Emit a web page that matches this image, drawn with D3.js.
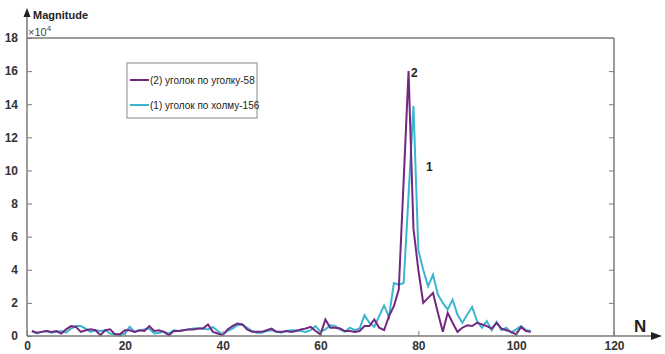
<!DOCTYPE html>
<html><head><meta charset="utf-8">
<script src="https://cdn.jsdelivr.net/npm/d3@7"></script>
<style>body{margin:0;background:#fff}svg{display:block;font-family:"Liberation Sans",Arial,sans-serif}</style>
</head><body><svg id="c" width="665" height="354"></svg>
<script>
const nValues = d3.range(1, 104);
const series2 = [0.3,0.2,0.25,0.3,0.25,0.3,0.15,0.4,0.6,0.55,0.25,0.35,0.4,0.35,0.05,0.35,0.4,0.1,0.1,0.35,
0.35,0.25,0.35,0.3,0.6,0.3,0.35,0.25,0.05,0.3,0.3,0.35,0.4,0.4,0.45,0.45,0.7,0.25,0.15,0.05,
0.4,0.6,0.75,0.7,0.4,0.25,0.25,0.25,0.35,0.45,0.25,0.25,0.3,0.25,0.3,0.4,0.45,0.55,0.3,0.1,
1.0,0.5,0.5,0.45,0.3,0.3,0.25,0.3,0.6,0.6,1.0,0.5,0.35,1.2,1.8,2.8,9.4,16.0,6.5,4.0,
2.0,2.3,2.6,1.4,0.25,1.4,0.8,0.25,0.5,0.65,0.6,0.8,0.7,0.6,0.45,0.8,0.45,0.35,0.25,0.1,
0.55,0.3,0.25];
const series1 = [0.3,0.15,0.25,0.3,0.2,0.25,0.3,0.2,0.45,0.6,0.6,0.45,0.25,0.35,0.3,0.35,0.15,0.1,0.05,0.15,
0.55,0.25,0.35,0.4,0.45,0.15,0.2,0.25,0.15,0.35,0.3,0.35,0.4,0.45,0.45,0.45,0.4,0.55,0.3,0.1,
0.3,0.45,0.65,0.7,0.5,0.3,0.2,0.2,0.3,0.35,0.25,0.2,0.3,0.35,0.35,0.3,0.25,0.35,0.6,0.25,
0.4,0.65,0.6,0.4,0.25,0.5,0.35,0.45,1.25,0.8,0.55,1.2,1.85,1.15,3.2,3.1,3.2,8.5,13.9,5.2,
4.0,3.0,3.7,2.5,2.0,1.6,2.2,1.3,0.8,1.3,1.75,0.9,0.5,0.9,0.35,0.85,0.35,0.5,0.2,0.4,
0.6,0.35,0.3];
const xTicks = [0,20,40,60,80,100,120];
const yTicks = [0,2,4,6,8,10,12,14,16,18];
const legendLabels = ["(2) уголок по уголку-58","(1) уголок по холму-156"];
const colors = ["#72287f","#3cb6cf"];

const svg = d3.select("#c");
const x = d3.scaleLinear().domain([0,120]).range([27,614]);
const y = d3.scaleLinear().domain([0,18]).range([336,38]);
const axisColor = "#7a7a7a";

// frame top & right
svg.append("line").attr("x1",x(0)).attr("x2",x(120)).attr("y1",y(18)).attr("y2",y(18)).attr("stroke",axisColor).attr("stroke-width",1.5);
svg.append("line").attr("x1",x(120)).attr("x2",x(120)).attr("y1",y(18)).attr("y2",y(0)).attr("stroke",axisColor).attr("stroke-width",1.5);

const line = d3.line().x((d,i)=>x(nValues[i])).y(d=>y(d));
svg.append("path").datum(series1).attr("d",line).attr("fill","none").attr("stroke",colors[1]).attr("stroke-width",2);
svg.append("path").datum(series2).attr("d",line).attr("fill","none").attr("stroke",colors[0]).attr("stroke-width",2);

// bottom axis
const xa = svg.append("g").attr("transform",`translate(0,${y(0)})`)
  .call(d3.axisBottom(x).tickValues(xTicks).tickSizeInner(-5).tickSizeOuter(0).tickPadding(5));
xa.select(".domain").remove();
xa.selectAll(".tick line").attr("stroke",axisColor);
xa.selectAll("text").attr("font-size",12).attr("font-weight","bold").attr("fill","#333").attr("font-family","Liberation Sans, Arial, sans-serif");
svg.append("line").attr("x1",x(0)).attr("x2",652).attr("y1",y(0)).attr("y2",y(0)).attr("stroke",axisColor).attr("stroke-width",1.5);
svg.append("path").attr("d",`M662,${y(0)} L651,${y(0)-4} L651,${y(0)+4} Z`).attr("fill","#222");
svg.append("text").attr("x",634).attr("y",332).attr("font-size",17).attr("font-weight","bold").attr("fill","#222").text("N");

// left axis
const ya = svg.append("g").attr("transform",`translate(${x(0)},0)`)
  .call(d3.axisLeft(y).tickValues(yTicks).tickSizeInner(-5).tickSizeOuter(0).tickPadding(9));
ya.select(".domain").remove();
ya.selectAll(".tick line").attr("stroke",axisColor);
ya.selectAll("text").attr("font-size",12).attr("font-weight","bold").attr("fill","#333").attr("font-family","Liberation Sans, Arial, sans-serif");
svg.append("line").attr("x1",x(0)).attr("x2",x(0)).attr("y1",y(0)).attr("y2",16).attr("stroke",axisColor).attr("stroke-width",1.5);
svg.append("path").attr("d",`M${x(0)},8 L${x(0)-3.5},17 L${x(0)+3.5},17 Z`).attr("fill","#222");
svg.append("text").attr("x",33).attr("y",19).attr("font-size",11).attr("font-weight","bold").attr("fill","#222").text("Magnitude");
const mult = svg.append("text").attr("x",28).attr("y",36).attr("font-size",11).attr("fill","#444");
mult.append("tspan").text("×10");
mult.append("tspan").attr("dy",-5).attr("font-size",8).text("4");

// right axis ticks
svg.append("g").attr("transform",`translate(${x(120)},0)`)
  .call(d3.axisRight(y).tickValues(yTicks.slice(1,-1)).tickSizeInner(-5).tickSizeOuter(0).tickFormat(""))
  .call(g=>{g.select(".domain").remove();g.selectAll("line").attr("stroke",axisColor);});

// legend
const lg = svg.append("g");
lg.append("rect").attr("x",127).attr("y",63).attr("width",130).attr("height",55).attr("fill","#fff").attr("stroke","#888").attr("stroke-width",1);
legendLabels.forEach((t,i)=>{
  const yy = 80 + i*25;
  lg.append("line").attr("x1",130).attr("x2",149).attr("y1",yy).attr("y2",yy).attr("stroke",colors[i]).attr("stroke-width",2);
  lg.append("text").attr("x",150).attr("y",yy+3.5).attr("font-size",10).attr("fill","#222").text(t);
});

// annotations
svg.append("text").attr("x",411).attr("y",77).attr("font-size",12).attr("font-weight","bold").attr("fill","#222").text("2");
svg.append("text").attr("x",426).attr("y",171).attr("font-size",12).attr("font-weight","bold").attr("fill","#222").text("1");
</script></body></html>
